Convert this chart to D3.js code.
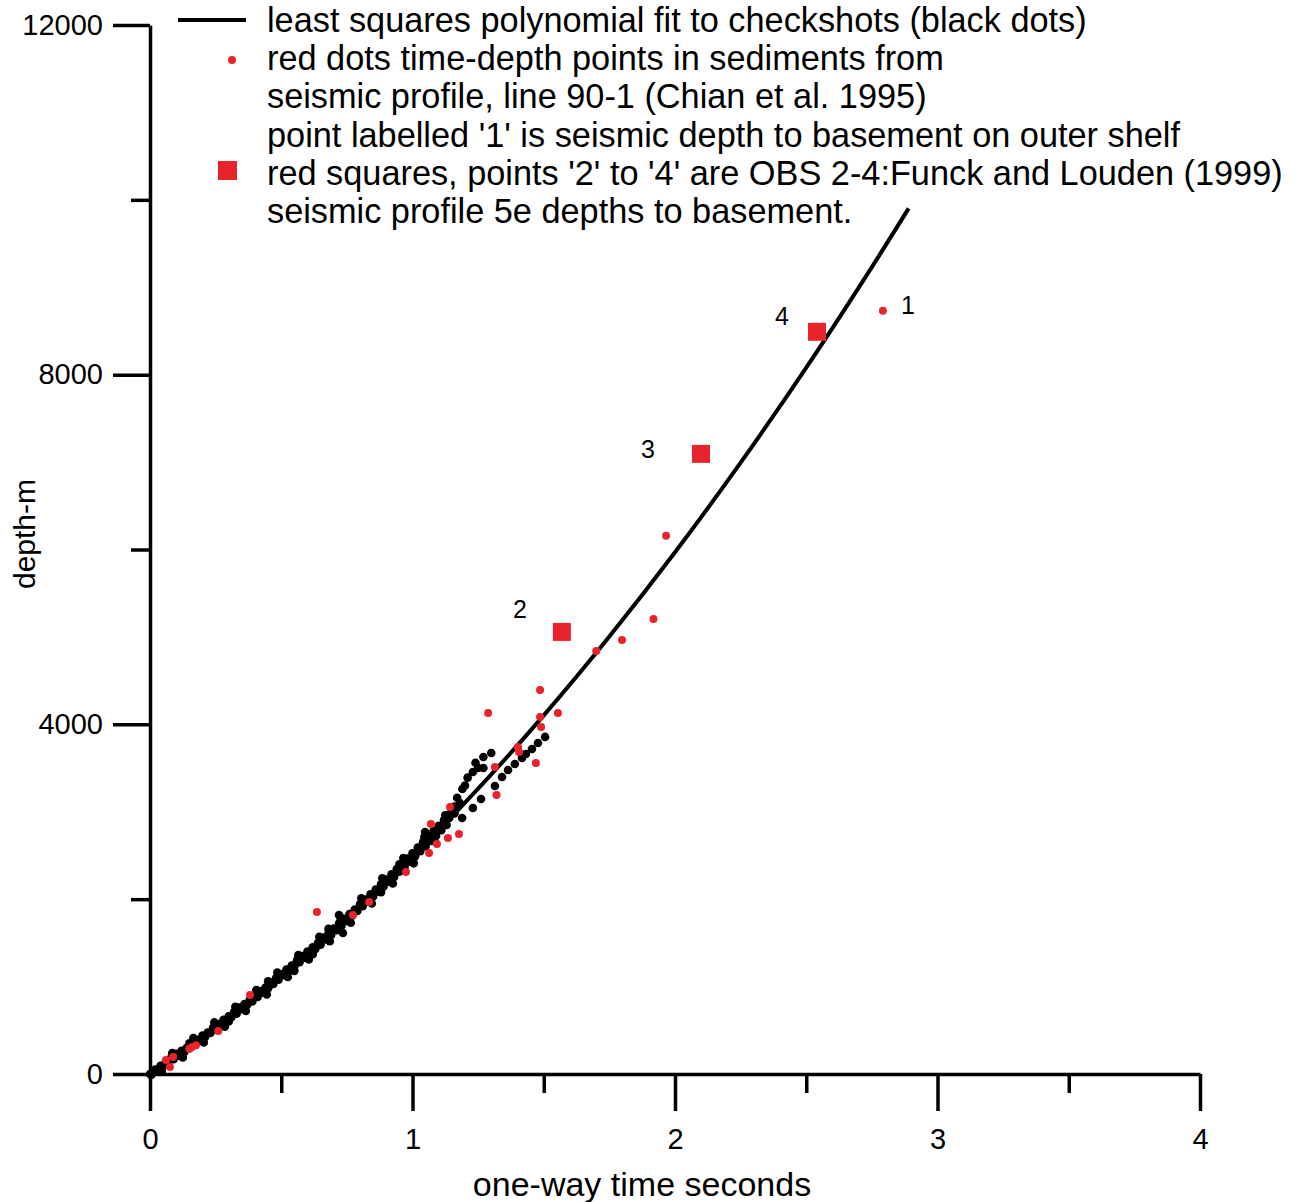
<!DOCTYPE html>
<html>
<head>
<meta charset="utf-8">
<script src="https://cdn.jsdelivr.net/npm/d3@7"></script>
<style>
  body { margin: 0; background: #fff; }
  svg { display: block; font-family: "Liberation Sans", Arial, sans-serif; }
</style>
</head>
<body>
<div id="vis-holder"></div>
<script>
// Tick values
const timeTicks = [0, 1, 2, 3, 4];
const timeMinor = [0.5, 1.5, 2.5, 3.5];
const depthTicks = [0, 4000, 8000, 12000];
const depthMinor = [2000, 6000, 10000];

// least squares fit curve [time s, depth m]
const fitCurve = [
  [0, 0], [0.25, 529], [0.5, 1119], [0.75, 1772], [1.0, 2487], [1.25, 3264],
  [1.5, 4103], [1.75, 5005], [2.0, 5968], [2.25, 6994], [2.5, 8081],
  [2.75, 9231], [2.89, 9902]
];

// checkshots (black dots) [time s, depth m]
const checkshots = [
  [0, 0], [0.005, -10], [0.01, 15], [0.02, 50], [0.03, 45], [0.04, 95], [0.05, 90],
  [0.06, 140], [0.07, 130], [0.08, 185], [0.09, 170], [0.10, 230], [0.11, 210],
  [0.12, 265], [0.13, 250], [0.14, 300], [0.15, 295], [0.16, 350], [0.17, 335],
  [0.18, 390], [0.19, 380], [0.20, 440], [0.21, 425], [0.22, 475], [0.23, 470],
  [0.24, 530], [0.25, 510], [0.26, 570], [0.27, 555], [0.28, 620], [0.29, 600],
  [0.30, 660], [0.31, 650], [0.32, 710], [0.33, 690], [0.34, 760], [0.35, 740],
  [0.36, 800], [0.37, 790], [0.38, 850], [0.39, 830], [0.40, 900], [0.41, 880],
  [0.42, 950], [0.43, 930], [0.44, 990], [0.45, 980], [0.46, 1045], [0.47, 1030],
  [0.48, 1095], [0.49, 1080], [0.50, 1140], [0.51, 1130], [0.52, 1195], [0.53, 1180],
  [0.54, 1240], [0.55, 1230], [0.56, 1300], [0.57, 1280], [0.58, 1350], [0.59, 1330],
  [0.60, 1400], [0.61, 1380], [0.62, 1450], [0.63, 1430], [0.64, 1500], [0.65, 1480],
  [0.66, 1560], [0.67, 1540], [0.68, 1610], [0.69, 1590], [0.70, 1665], [0.71, 1645],
  [0.72, 1720], [0.73, 1700], [0.74, 1775], [0.75, 1750], [0.76, 1830], [0.77, 1810],
  [0.78, 1880], [0.79, 1865], [0.80, 1940], [0.81, 1920], [0.82, 1995], [0.83, 1975],
  [0.84, 2055], [0.85, 2030], [0.86, 2110], [0.87, 2085], [0.88, 2170], [0.89, 2145],
  [0.90, 2225], [0.91, 2200], [0.92, 2285], [0.93, 2255], [0.94, 2345], [0.95, 2315],
  [0.96, 2405], [0.97, 2370], [0.98, 2465], [0.99, 2430], [1.00, 2525], [1.01, 2490],
  [1.02, 2590], [1.03, 2550], [1.04, 2650], [1.05, 2605], [1.06, 2715], [1.07, 2665],
  [1.08, 2780], [1.09, 2725], [1.10, 2840], [1.11, 2790], [1.12, 2905], [1.13, 2850],
  [1.14, 2970], [1.14, 2930], [1.15, 3000], [1.16, 3060], [1.16, 2980], [1.18, 3100],
  // wider spread of the band
  [0.045, 30], [0.085, 240], [0.125, 190], [0.165, 410], [0.205, 360], [0.245, 590],
  [0.285, 540], [0.325, 770], [0.365, 720], [0.405, 960], [0.445, 910], [0.485, 1160],
  [0.525, 1110], [0.565, 1360], [0.605, 1310], [0.645, 1570], [0.685, 1520],
  [0.725, 1790], [0.765, 1730], [0.805, 2010], [0.845, 1950], [0.885, 2240],
  [0.925, 2180], [0.965, 2470], [1.005, 2410], [1.045, 2710], [1.085, 2660],
  [1.125, 2960],
  // scattered checkshots
  [0.15, 350], [0.30, 600], [0.45, 1060], [0.55, 1180], [0.62, 1370], [0.68, 1660],
  [0.72, 1819], [0.735, 1613], [0.88, 2080], [0.95, 2400], [1.00, 2420], [1.048, 2769],
  [1.05, 2700],
  // upper group
  [1.17, 3160], [1.19, 3260], [1.20, 3300], [1.21, 3390], [1.23, 3455], [1.24, 3560],
  [1.25, 3500], [1.27, 3627], [1.27, 3500], [1.30, 3672],
  // lower group
  [1.189, 2929], [1.23, 3043], [1.261, 3146], [1.314, 3295], [1.341, 3398],
  [1.364, 3478], [1.39, 3547], [1.417, 3616], [1.432, 3661], [1.455, 3718],
  [1.478, 3787], [1.505, 3856]
];

// red dots, seismic profile line 90-1 [time s, depth m]
const seismicDots = [
  [0.061, 160], [0.076, 80], [0.088, 195], [0.15, 290], [0.16, 309], [0.175, 330],
  [0.26, 492], [0.381, 904], [0.636, 1854], [0.773, 1819], [0.835, 1968],
  [0.975, 2311], [1.063, 2529], [1.07, 2860], [1.093, 2632], [1.135, 2700],
  [1.143, 3055], [1.177, 2746], [1.288, 4130], [1.314, 3513], [1.32, 3192],
  [1.402, 3741], [1.406, 3684], [1.47, 3558], [1.486, 4394], [1.486, 4085],
  [1.49, 3970], [1.554, 4130], [1.70, 4840], [1.798, 4966], [1.918, 5206],
  [1.966, 6156], [2.792, 8730]
];

// red squares OBS 2-4 [time s, depth m]
const obsSquares = [[1.569, 5057], [2.099, 7094], [2.541, 8490]];
const pointLabels = ["1", "2", "3", "4"];
const labelAnchors = [[2.792, 8730], [1.569, 5057], [2.099, 7094], [2.541, 8490]];
const labelOffsets = [[25, -6], [-42, -23], [-53, -5], [-35, -16]];

const legendLines = [
  "least squares polynomial fit to checkshots (black dots)",
  "red dots time-depth points in sediments from",
  "seismic profile, line 90-1 (Chian et al. 1995)",
  "point labelled '1' is seismic depth to basement on outer shelf",
  "red squares, points '2' to '4' are OBS 2-4:Funck and Louden (1999)",
  "seismic profile 5e depths to basement."
];

const width = 1299;
const height = 1202;
const margin = { top: 25, right: 99, bottom: 128, left: 150 };
const red = "#e8232b";
const fontFamily = "'Liberation Sans', Arial, sans-serif";

const svg = d3.select("#vis-holder")
  .append("svg")
  .attr("width", width)
  .attr("height", height);

const x = d3.scaleLinear()
  .domain([0, 4])
  .range([margin.left, width - margin.right]);

const y = d3.scaleLinear()
  .domain([0, 12000])
  .range([height - margin.bottom, margin.top]);

// x axis (major + minor ticks)
svg.append("g")
  .attr("transform", `translate(0,${y(0)})`)
  .call(d3.axisBottom(x).tickValues(timeTicks).tickFormat(d3.format("d"))
    .tickSize(37).tickSizeOuter(0).tickPadding(17))
  .attr("font-size", "29px")
  .attr("font-family", fontFamily);
svg.append("g")
  .attr("transform", `translate(0,${y(0)})`)
  .call(d3.axisBottom(x).tickValues(timeMinor).tickSize(19).tickFormat(""))
  .call((g) => g.select(".domain").remove());

// y axis (major + minor ticks)
svg.append("g")
  .attr("transform", `translate(${x(0)},0)`)
  .call(d3.axisLeft(y).tickValues(depthTicks).tickFormat(d3.format("d"))
    .tickSize(37).tickSizeOuter(0).tickPadding(10))
  .attr("font-size", "29px")
  .attr("font-family", fontFamily);
svg.append("g")
  .attr("transform", `translate(${x(0)},0)`)
  .call(d3.axisLeft(y).tickValues(depthMinor).tickSize(19).tickFormat(""))
  .call((g) => g.select(".domain").remove());

svg.selectAll(".domain, .tick line")
  .attr("stroke", "#000")
  .attr("stroke-width", 3.5);
svg.selectAll(".tick text").attr("fill", "#000");

// axis titles
svg.append("text")
  .attr("x", 642)
  .attr("y", 1196)
  .attr("text-anchor", "middle")
  .attr("font-size", "34px")
  .text("one-way time seconds");

svg.append("text")
  .attr("transform", `translate(35,${534}) rotate(-90)`)
  .attr("text-anchor", "middle")
  .attr("font-size", "30px")
  .text("depth-m");

// checkshots
svg.append("g")
  .selectAll("circle")
  .data(checkshots)
  .enter()
  .append("circle")
  .attr("cx", (d) => x(d[0]))
  .attr("cy", (d) => y(d[1]))
  .attr("r", 4.3)
  .attr("fill", "#000");

// fit curve
const line = d3.line()
  .x((d) => x(d[0]))
  .y((d) => y(d[1]))
  .curve(d3.curveCatmullRom);

svg.append("path")
  .datum(fitCurve)
  .attr("d", line)
  .attr("fill", "none")
  .attr("stroke", "#000")
  .attr("stroke-width", 4);

// red dots
svg.append("g")
  .selectAll("circle")
  .data(seismicDots)
  .enter()
  .append("circle")
  .attr("cx", (d) => x(d[0]))
  .attr("cy", (d) => y(d[1]))
  .attr("r", 4)
  .attr("fill", red);

// red squares
svg.append("g")
  .selectAll("rect")
  .data(obsSquares)
  .enter()
  .append("rect")
  .attr("x", (d) => x(d[0]) - 9)
  .attr("y", (d) => y(d[1]) - 9)
  .attr("width", 18)
  .attr("height", 18)
  .attr("fill", red);

// point labels
svg.append("g")
  .selectAll("text")
  .data(pointLabels)
  .enter()
  .append("text")
  .attr("x", (d, i) => x(labelAnchors[i][0]) + labelOffsets[i][0])
  .attr("y", (d, i) => y(labelAnchors[i][1]) + labelOffsets[i][1])
  .attr("dy", "0.35em")
  .attr("text-anchor", "middle")
  .attr("font-size", "25px")
  .text((d) => d);

// legend
const legend = svg.append("g");
legend.append("line")
  .attr("x1", 178).attr("x2", 246)
  .attr("y1", 20).attr("y2", 20)
  .attr("stroke", "#000")
  .attr("stroke-width", 4);
legend.append("circle")
  .attr("cx", 232).attr("cy", 60).attr("r", 4)
  .attr("fill", red);
legend.append("rect")
  .attr("x", 218).attr("y", 161).attr("width", 19).attr("height", 19)
  .attr("fill", red);
legend.selectAll("text")
  .data(legendLines)
  .enter()
  .append("text")
  .attr("x", 267)
  .attr("y", (d, i) => 20 + i * 38.2)
  .attr("dy", "0.35em")
  .attr("font-size", "34.3px")
  .text((d) => d);
</script>
</body>
</html>
